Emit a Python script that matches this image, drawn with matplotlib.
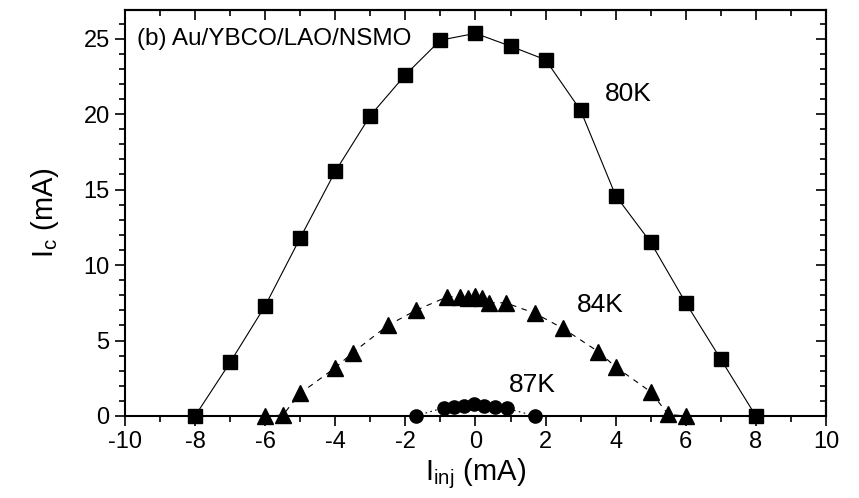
import matplotlib.pyplot as plt
from matplotlib.ticker import MultipleLocator

plt.rcParams['axes.unicode_minus'] = False
plt.rcParams['font.family'] = ['Liberation Sans', 'DejaVu Sans']

# 80K (squares)
x_80 = [-8, -7, -6, -5, -4, -3, -2, -1, 0, 1, 2, 3, 4, 5, 6, 7, 8]
y_80 = [0, 3.55, 7.3, 11.8, 16.2, 19.9, 22.6, 24.9, 25.35, 24.5, 23.6, 20.25, 14.6, 11.5, 7.5, 3.76, 0]

# 84K (triangles)
x_84 = [-6, -5.5, -5, -4, -3.5, -2.5, -1.7, -0.8, -0.43, -0.22, 0, 0.19, 0.38, 0.86, 1.7, 2.5, 3.5, 4, 5, 5.5, 6]
y_84 = [0, 0.05, 1.5, 3.2, 4.2, 6.0, 7.0, 7.9, 7.9, 7.8, 7.95, 7.8, 7.5, 7.5, 6.8, 5.8, 4.27, 3.25, 1.6, 0.1, 0]

# 87K (circles)
x_87 = [-1.7, -0.9, -0.62, -0.33, -0.05, 0.24, 0.57, 0.9, 1.7]
y_87 = [0, 0.55, 0.6, 0.66, 0.78, 0.66, 0.6, 0.5, 0]

fig = plt.figure(figsize=(8.59, 4.98), dpi=100)
ax = fig.add_axes([0.1455, 0.1647, 0.8160, 0.8153])

ax.plot(x_80, y_80, color='black', lw=0.8, marker='s', ms=9.5, clip_on=False, zorder=3)
ax.plot(x_84, y_84, color='black', lw=0.8, ls=(0, (5, 5)), marker='^', ms=11, clip_on=False, zorder=3)
ax.plot(x_87, y_87, color='black', lw=0.8, ls=(0, (1.5, 3)), marker='o', ms=9.5, clip_on=False, zorder=3)

ax.set_xlim(-10, 10)
ax.set_ylim(0, 26.9)
ax.xaxis.set_major_locator(MultipleLocator(2))
ax.xaxis.set_minor_locator(MultipleLocator(1))
ax.yaxis.set_major_locator(MultipleLocator(5))
ax.yaxis.set_minor_locator(MultipleLocator(1))

ax.tick_params(which='both', direction='out', top=False, right=False, width=1.2)
ax.tick_params(which='major', length=7, labelsize=17, pad=4)
ax.tick_params(which='minor', length=4)

# inward ticks on top and right
sec_x = ax.secondary_xaxis('top')
sec_x.xaxis.set_major_locator(MultipleLocator(2))
sec_x.xaxis.set_minor_locator(MultipleLocator(1))
sec_x.tick_params(which='both', direction='in', labeltop=False, width=1.2)
sec_x.tick_params(which='major', length=7)
sec_x.tick_params(which='minor', length=4)
sec_y = ax.secondary_yaxis('right')
sec_y.yaxis.set_major_locator(MultipleLocator(5))
sec_y.yaxis.set_minor_locator(MultipleLocator(1))
sec_y.tick_params(which='both', direction='in', labelright=False, width=1.2)
sec_y.tick_params(which='major', length=7)
sec_y.tick_params(which='minor', length=4)

for s in ax.spines.values():
    s.set_linewidth(1.5)
sec_x.spines['top'].set_linewidth(1.5)
sec_y.spines['right'].set_linewidth(1.5)

ax.set_xlabel(r'I$_{\mathregular{inj}}$ (mA)', fontsize=21, labelpad=2)
ax.set_ylabel(r'I$_{\mathregular{c}}$ (mA)', fontsize=21, labelpad=16)

ax.text(-9.65, 25.0, '(b) Au/YBCO/LAO/NSMO', fontsize=17.5, ha='left', va='center')
ax.text(4.35, 21.3, '80K', fontsize=19, ha='center', va='center')
ax.text(3.55, 7.37, '84K', fontsize=19, ha='center', va='center')
ax.text(1.62, 2.06, '87K', fontsize=19, ha='center', va='center')

fig.savefig('out.png', dpi=100)
